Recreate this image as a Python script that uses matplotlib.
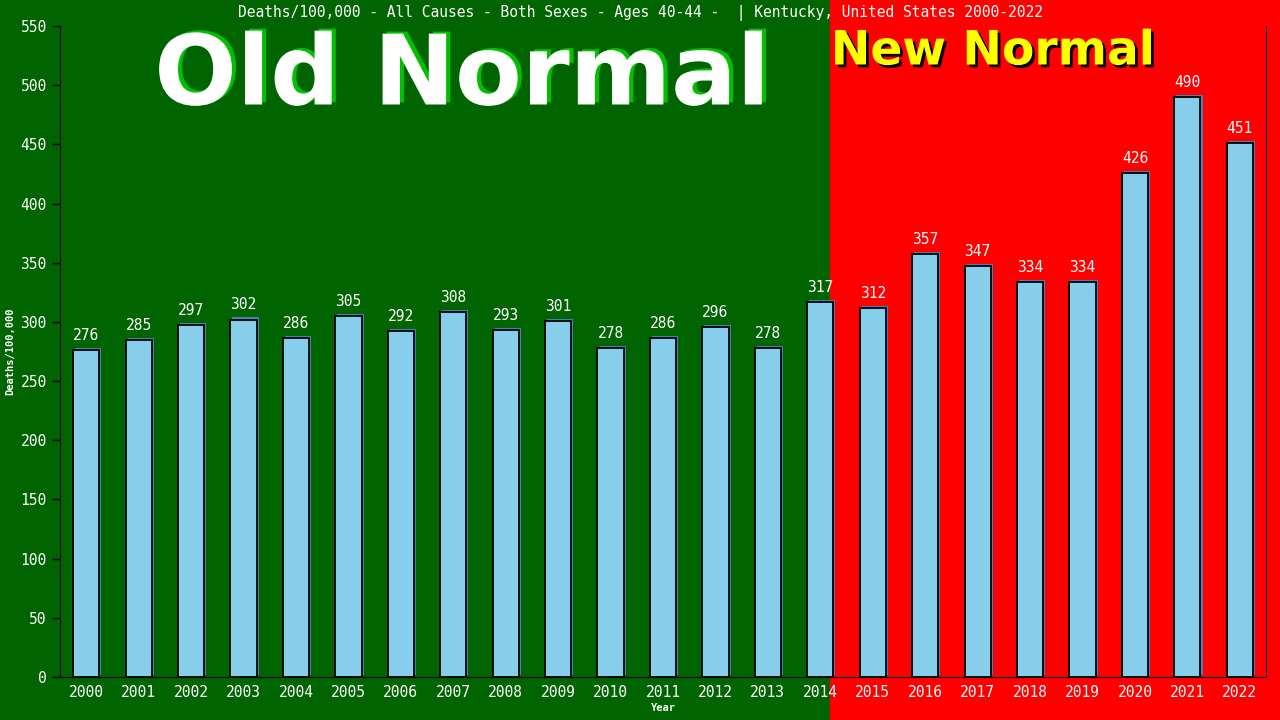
import numpy as np
import matplotlib
matplotlib.use("Agg")
import matplotlib.pyplot as plt
import matplotlib.patheffects as pe
from matplotlib.patches import Rectangle

years = [str(y) for y in range(2000, 2023)]
deaths = [276, 285, 297, 302, 286, 305, 292, 308, 293, 301, 278, 286,
          296, 278, 317, 312, 357, 347, 334, 334, 426, 490, 451]
title = "Deaths/100,000 - All Causes - Both Sexes - Ages 40-44 -  | Kentucky, United States 2000-2022"

green = "#006400"
red = "#ff0000"
mono = "DejaVu Sans Mono"

fig = plt.figure(figsize=(12.8, 7.2), dpi=100)
fig.patch.set_facecolor(green)
# red "new normal" half of the figure, behind the axes
fig.patches.append(Rectangle((830 / 1280, 0), 1 - 830 / 1280, 1,
                             transform=fig.transFigure, color=red, zorder=-5))

ax = fig.add_axes([60 / 1280, 43 / 720, 1206 / 1280, 651 / 720])
ax.set_facecolor("none")

x = np.arange(len(years))
bars = ax.bar(x, deaths, width=0.5, color="#87ceeb", edgecolor="black",
              linewidth=1.3, zorder=3)
for b in bars:
    b.set_path_effects([pe.SimplePatchShadow(offset=(1.5, 1.5),
                                             shadow_rgbFace="#4682b4", alpha=1),
                        pe.Normal()])
for xi, v in zip(x, deaths):
    ax.text(xi, v + 6, str(v), ha="center", va="bottom", color="white",
            fontsize=10.5, family=mono, zorder=4)

ax.set_xlim(-0.5, len(years) - 0.5)
ax.set_ylim(0, 550)
ax.set_yticks(range(0, 551, 50))
ax.set_xticks(x)
ax.set_xticklabels(years, color="white", fontsize=10.5, family=mono)
for lbl in ax.get_yticklabels():
    lbl.set_color("white")
    lbl.set_fontsize(10.5)
    lbl.set_family(mono)
ax.tick_params(axis="y", colors="black", length=6, width=1, labelcolor="white")
ax.tick_params(axis="x", length=0, pad=6, labelcolor="white")
for s in ["left", "bottom", "right"]:
    ax.spines[s].set_color("black")
ax.spines["top"].set_visible(False)

ax.set_xlabel("Year", color="white", fontsize=7.5, family=mono,
              fontweight="bold", labelpad=2)
ax.set_ylabel("Deaths/100,000", color="white", fontsize=7.5, family=mono,
              fontweight="bold", labelpad=4)

fig.text(0.5, 1 - 13 / 720, title, ha="center", va="center", color="white",
         fontsize=10.5, family=mono)

# big banner labels
fig.text(462 / 1280, 1 - 78 / 720, "Old Normal", ha="center", va="center",
         color="white", fontsize=70, fontweight="bold", family="DejaVu Sans",
         path_effects=[pe.withSimplePatchShadow(offset=(3, 1.5), shadow_rgbFace="#00c000",
                                                alpha=1)])
fig.text(993 / 1280, 1 - 52 / 720, "New Normal", ha="center", va="center",
         color="#ffff00", fontsize=34, fontweight="bold", family="DejaVu Sans",
         path_effects=[pe.withSimplePatchShadow(offset=(2, -2), shadow_rgbFace="black",
                                                alpha=1)])

fig.savefig("out.png", dpi=100, facecolor=fig.get_facecolor())
